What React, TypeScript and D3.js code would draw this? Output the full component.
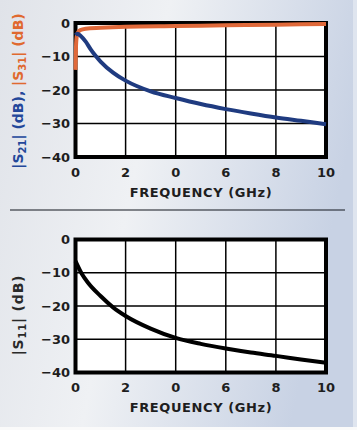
import React from "react";
import * as d3 from "d3";

const freqTicks = [0, 2, 4, 6, 8, 10];
const freqTickLabels = ["0", "2", "0", "6", "8", "10"];
const dbTicks = [0, -10, -20, -30, -40];
const dbTickLabels = ["0", "\u221210", "\u221220", "\u221230", "\u221240"];

const s21Freq = [0, 0.08, 0.2, 0.4, 0.6, 0.8, 1, 1.5, 2, 3, 4, 5, 6, 7, 8, 9, 10];
const s21Db = [-3.6, -3.2, -3.8, -5.5, -7.8, -9.8, -11.5, -14.8, -17.2, -20.4, -22.4, -24.2, -25.7, -27, -28.2, -29.2, -30.2];

const s31Freq = [0, 0.02, 0.05, 0.1, 0.2, 0.4, 1, 2, 4, 6, 8, 10];
const s31Db = [-14, -7, -4, -2.8, -2.1, -1.7, -1.4, -1.1, -0.9, -0.7, -0.5, -0.3];

const s11Freq = [0, 0.25, 0.5, 1, 1.5, 2, 3, 4, 5, 6, 7, 8, 9, 10];
const s11Db = [-6.5, -10.3, -13, -17, -20.4, -23, -26.8, -29.6, -31.4, -32.8, -34, -35, -36.1, -37.1];

const FONT = "'DejaVu Sans', sans-serif";

function Panel({ top, bottom, series, yLabel }: any) {
  const x = d3.scaleLinear().domain([0, 10]).range([75.5, 326]);
  const y = d3.scaleLinear().domain([0, -40]).range([top, bottom]);
  const line = d3
    .line<[number, number]>()
    .x((d) => x(d[0]))
    .y((d) => y(d[1]))
    .curve(d3.curveMonotoneX);
  return (
    <g>
      <rect x={x(0)} y={y(0)} width={x(10) - x(0)} height={y(-40) - y(0)} fill="#fff" />
      {freqTicks.slice(1, -1).map((t) => (
        <line key={"gx" + t} x1={x(t)} x2={x(t)} y1={y(0)} y2={y(-40)} stroke="#000" strokeWidth={1.5} />
      ))}
      {dbTicks.slice(1, -1).map((t) => (
        <line key={"gy" + t} x1={x(0)} x2={x(10)} y1={y(t)} y2={y(t)} stroke="#000" strokeWidth={1.5} />
      ))}
      <rect x={x(0)} y={y(0)} width={x(10) - x(0)} height={y(-40) - y(0)} fill="none" stroke="#000" strokeWidth={4} />
      {series.map((s: any, i: number) => (
        <path
          key={i}
          d={line(s.f.map((f: number, j: number) => [f, s.v[j]])) || ""}
          fill="none"
          stroke={s.color}
          strokeWidth={4}
          strokeLinejoin="round"
        />
      ))}
      {dbTicks.map((t, i) => (
        <text key={"ty" + t} x={70} y={y(t)} dy="0.36em" textAnchor="end" fontFamily={FONT} fontWeight="bold" fontSize={13} fill="#1e1e1e">
          {dbTickLabels[i]}
        </text>
      ))}
      {freqTicks.map((t, i) => (
        <text key={"tx" + t} x={x(t)} y={bottom + 15} dy="0.36em" textAnchor="middle" fontFamily={FONT} fontWeight="bold" fontSize={13} fill="#1e1e1e">
          {freqTickLabels[i]}
        </text>
      ))}
      <text x={201} y={bottom + 35} dy="0.36em" textAnchor="middle" fontFamily={FONT} fontWeight="bold" fontSize={13} letterSpacing={0.6} fill="#1e1e1e">
        FREQUENCY (GHz)
      </text>
      {yLabel}
    </g>
  );
}

export default function App() {
  const sub = { fontSize: 10, dy: 3 };
  const topLabel = (
    <text transform="translate(23,91) rotate(-90)" textAnchor="middle" fontFamily={FONT} fontWeight="bold" fontSize={14}>
      <tspan fill="#23479a">|S</tspan>
      <tspan fill="#23479a" fontSize={sub.fontSize} dy={sub.dy}>21</tspan>
      <tspan fill="#23479a" dy={-sub.dy}>| (dB),</tspan>
      <tspan fill="#e0692f"> |S</tspan>
      <tspan fill="#e0692f" fontSize={sub.fontSize} dy={sub.dy}>31</tspan>
      <tspan fill="#e0692f" dy={-sub.dy}>| (dB)</tspan>
    </text>
  );
  const botLabel = (
    <text transform="translate(23,315) rotate(-90)" textAnchor="middle" fontFamily={FONT} fontWeight="bold" fontSize={14} letterSpacing={0.8} fill="#2a2a2a">
      <tspan>|S</tspan>
      <tspan fontSize={sub.fontSize} dy={sub.dy}>11</tspan>
      <tspan dy={-sub.dy}>| (dB)</tspan>
    </text>
  );
  return (
    <svg width={357} height={430} style={{ position: "absolute", left: 0, top: 0 }}>
      <defs>
        <linearGradient id="bg" x1="0" y1="0" x2="1" y2="0.25">
          <stop offset="0" stopColor="#e0e3e9" />
          <stop offset="0.45" stopColor="#eff1f4" />
          <stop offset="1" stopColor="#c8d2e4" />
        </linearGradient>
      </defs>
      <rect x={0} y={0} width={357} height={430} fill="url(#bg)" />
      <rect x={0} y={427} width={357} height={3} fill="#fafafa" />
      <rect x={353} y={0} width={4} height={427} fill="#dfe5ef" />
      <Panel
        top={23}
        bottom={157}
        series={[
          { f: s31Freq, v: s31Db, color: "#e0693a" },
          { f: s21Freq, v: s21Db, color: "#1f3b80" },
        ]}
        yLabel={topLabel}
      />
      <line x1={10} x2={345} y1={210} y2={210} stroke="#12161f" strokeWidth={1.2} />
      <Panel top={239.5} bottom={372.5} series={[{ f: s11Freq, v: s11Db, color: "#000" }]} yLabel={botLabel} />
    </svg>
  );
}
